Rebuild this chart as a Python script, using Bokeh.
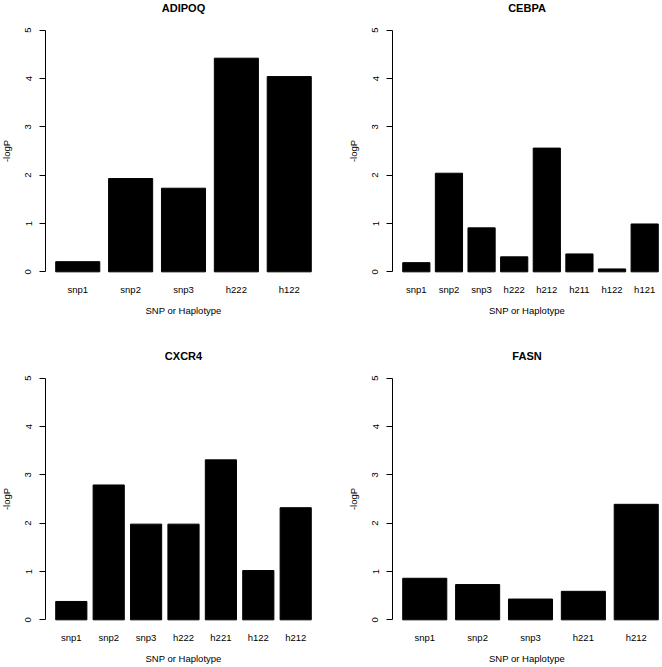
from bokeh.plotting import figure
from bokeh.layouts import gridplot
from bokeh.models import Range1d, FixedTicker, Title
from bokeh.embed import file_html
from bokeh.resources import INLINE

# ---- data ----
genes = ["ADIPOQ", "CEBPA", "CXCR4", "FASN"]
adipoq_names = ["snp1", "snp2", "snp3", "h222", "h122"]
adipoq_vals = [0.21, 1.93, 1.73, 4.42, 4.04]
cebpa_names = ["snp1", "snp2", "snp3", "h222", "h212", "h211", "h122", "h121"]
cebpa_vals = [0.19, 2.04, 0.91, 0.31, 2.56, 0.37, 0.06, 0.99]
cxcr4_names = ["snp1", "snp2", "snp3", "h222", "h221", "h122", "h212"]
cxcr4_vals = [0.38, 2.79, 1.98, 1.98, 3.31, 1.02, 2.32]
fasn_names = ["snp1", "snp2", "snp3", "h221", "h212"]
fasn_vals = [0.86, 0.73, 0.43, 0.59, 2.39]
y_ticks = [0, 1, 2, 3, 4, 5]
x_label = "SNP or Haplotype"
y_label = "-logP"

FONT = "Liberation Sans"
TICK_SIZE = "9.5px"
TITLE_SIZE = "11px"
FULL_W = 276  # width of a full plot region in px


def make_panel(title, names, vals, col, row):
    n = len(names)
    span_lo, span_hi = 0.2, 1.2 * n
    d = 0.04 * (span_hi - span_lo)
    ulo, uhi = span_lo - d, span_hi + d

    if col == 0:
        fw, ml, mr = 276, 46, 9
    else:
        fw, ml, mr = 269, 62, 0
    uhi_vis = ulo + (uhi - ulo) * fw / FULL_W
    to_idx = lambda u: (u - 0.7) / 1.2
    xlo, xhi = to_idx(ulo), to_idx(uhi_vis)

    if row == 0:
        mt, mb, fh = 29, 53, 261
    else:
        mt, mb, fh = 34, 38, 261

    p = figure(frame_width=fw, frame_height=fh,
               min_border_left=ml, min_border_right=mr,
               min_border_top=mt, min_border_bottom=mb,
               x_range=Range1d(xlo, xhi), y_range=Range1d(-0.2, 5.2),
               output_backend="svg", toolbar_location=None, tools="")
    p.outline_line_color = None
    p.grid.visible = False
    p.background_fill_color = "white"
    p.border_fill_color = "white"

    idx = list(range(n))
    p.vbar(x=idx, top=vals, bottom=0, width=1 / 1.2,
           fill_color="black", line_color="black", line_width=1)

    ya = p.yaxis[0]
    ya.bounds = (0, 5)
    ya.ticker = FixedTicker(ticks=y_ticks)
    ya.minor_tick_line_color = None
    ya.major_tick_in = 0
    ya.major_tick_out = 6
    ya.major_label_orientation = "vertical"
    ya.major_label_standoff = 8
    ya.major_label_text_font = FONT
    ya.major_label_text_font_size = TICK_SIZE
    ya.major_label_text_color = "black"
    ya.axis_label = y_label
    ya.axis_label_standoff = 11
    ya.axis_label_text_font = FONT
    ya.axis_label_text_font_size = TICK_SIZE
    ya.axis_label_text_font_style = "normal"
    ya.axis_label_text_color = "black"
    ya.axis_line_color = "black"
    ya.major_tick_line_color = "black"

    xa = p.xaxis[0]
    xa.ticker = FixedTicker(ticks=idx)
    xa.major_label_overrides = {i: nm for i, nm in zip(idx, names)}
    xa.axis_line_color = None
    xa.major_tick_line_color = None
    xa.minor_tick_line_color = None
    xa.major_tick_out = 0
    xa.major_tick_in = 0
    xa.major_label_standoff = 2
    xa.major_label_text_font = FONT
    xa.major_label_text_font_size = TICK_SIZE
    xa.major_label_text_color = "black"
    xa.axis_label = x_label
    xa.axis_label_standoff = 7
    xa.axis_label_text_font = FONT
    xa.axis_label_text_font_size = TICK_SIZE
    xa.axis_label_text_font_style = "normal"
    xa.axis_label_text_color = "black"

    # title centred over the full (uncropped) plot region
    offset = FULL_W / 2 - fw / 2
    p.add_layout(Title(text=title, align="center", standoff=14, offset=offset,
                       text_font=FONT, text_font_size=TITLE_SIZE,
                       text_font_style="bold", text_color="black"), "above")
    return p


p1 = make_panel(genes[0], adipoq_names, adipoq_vals, 0, 0)
p2 = make_panel(genes[1], cebpa_names, cebpa_vals, 1, 0)
p3 = make_panel(genes[2], cxcr4_names, cxcr4_vals, 0, 1)
p4 = make_panel(genes[3], fasn_names, fasn_vals, 1, 1)

grid = gridplot([[p1, p2], [p3, p4]], toolbar_location=None)
grid.margin = (-9, 0, 0, -3)

open("out.html", "w").write(file_html(grid, INLINE))
